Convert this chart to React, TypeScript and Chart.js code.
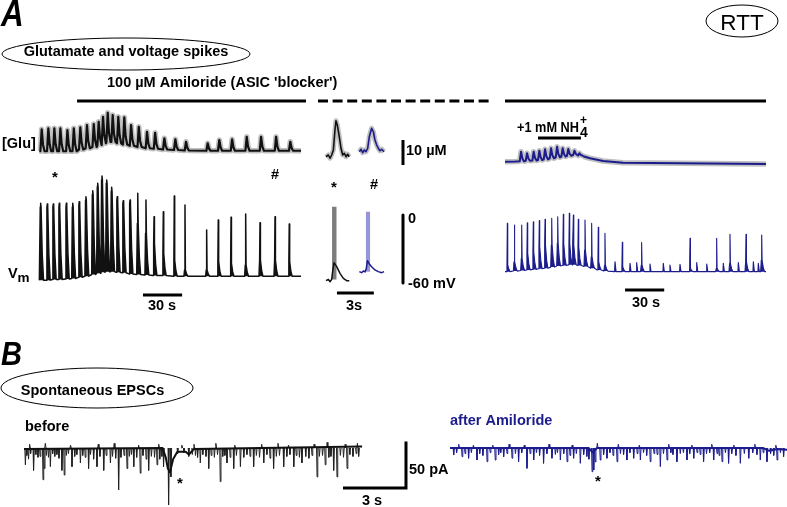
import React, { useEffect, useRef } from "react";
import { Chart, registerables } from "chart.js";

Chart.register(...registerables);

// ================= DATA =================
// Panel A, left: spontaneous events in 100 µM amiloride (time in s)
const leftSpikeTimes = [0.5, 5.6, 10.2, 14.8, 20.2, 25.1, 30.1, 35.2, 40.4, 44.2, 47.5, 51.1, 54.9, 59.2, 63.8, 69.0, 74.9, 81.2, 87.4, 94.5, 102.9, 111.1, 127.7, 136.6, 146.4, 157.6, 168.6, 180.1, 191.0];
// membrane potential (mV): spike peak, depolarising hump, baseline under each event
const leftVmPeak = [10.3, 9.7, 9.7, 10.3, 10.3, 10.3, 11.8, 16.2, 21.5, 28, 34.4, 30.9, 24.5, 16.2, 12.6, 13.2, 19.1, 13.2, -1.5, 2.9, 16.8, 8.8, -13.2, -4.4, -2, 0.9, -6.8, -1.5, -8];
const leftVmHump = [7, 7, 7, 7, 7, 7, 9, 13, 18, 25, 31, 28, 21, 13, 10, 10, -7.4, -16.2, -25, -33.8, -39.7, -48.5, -48.5, -41.2, -42.6, -44.1, -39.7, -39.7, -41.2];
const leftVmBase = [-57.5, -57.5, -57, -57, -56.5, -56, -55, -54, -52.5, -51.5, -50.5, -50, -50, -50.5, -51, -52, -52.5, -53, -53.5, -53.5, -54, -54, -54, -54, -54, -54, -54, -54, -54];
// extracellular glutamate (µM)
const leftGluPeak = [9.1, 9.5, 9.5, 9.5, 8.8, 9.5, 9.9, 10.8, 11.2, 12.1, 14.1, 15.7, 14.8, 14.1, 13.9, 10.8, 10.1, 8.1, 7.7, 5.5, 5.1, 4.1, 3.5, 4.8, 5.1, 6.1, 6.1, 6.1, 4.1];
const leftGluBase = [0.3, 0.3, 0.3, 0.3, 0.3, 0.3, 1, 1.5, 2, 2.8, 3.5, 4, 4, 3.5, 3, 2.5, 2, 1.5, 1.3, 1, 0.8, 0.6, 0.5, 0.5, 0.5, 0.5, 0.5, 0.5, 0.5];
const leftTraceEnd = 200;

// Panel A, middle: expanded single events (* black, # blue), time in s
const midGluStarT = [0, 0.19, 0.33, 0.46, 0.6, 0.73, 0.81, 0.92, 1.08, 1.22, 1.36, 1.49, 1.63, 1.76, 1.89];
const midGluStarV = [0.1, 0.8, -0.5, 0.8, 2.8, 10.8, 14.5, 12.8, 8.1, 3.5, 0.8, 1.5, 0.1, 1.1, 0.1];
const midGluHashT = [2.71, 2.85, 2.98, 3.12, 3.25, 3.39, 3.52, 3.71, 3.85, 3.98, 4.12, 4.25, 4.39, 4.53, 4.72];
const midGluHashV = [2.1, 3.1, 1.7, 2.8, 2.1, 3.5, 8.1, 11.5, 10.1, 6.8, 4.8, 3.5, 2.5, 3.1, 2.1];
const midVmStarT = [0, 0.19, 0.33, 0.46, 0.54, 0.65, 0.87, 1.14, 1.41, 1.68, 1.89];
const midVmStarV = [-58, -56.8, -58.9, -56.8, -50, -42.1, -45.6, -51.5, -55.9, -58, -58];
const midVmStarBurst = [0.49, 0.87, 7.3]; // start s, end s, top mV
const midVmHashT = [2.71, 2.9, 3.04, 3.17, 3.28, 3.37, 3.52, 3.71, 3.98, 4.25, 4.53, 4.72];
const midVmHashV = [-50, -50.9, -49.4, -50.3, -47.1, -40.3, -43.2, -45.6, -48.5, -50, -50.9, -50];
const midVmHashBurst = [3.23, 3.6, 2.9];

// Panel A, right: amiloride + 1 mM NH4+
const rightSpikeTimes = [1.8, 7.2, 12.8, 17.1, 21.7, 26.3, 30.7, 35.8, 40.4, 44.7, 49.3, 52.4, 56.2, 61.3, 66.4, 71.5, 76.6, 89.9, 104.7, 141.8, 162.2, 172.4, 184.7, 196.7];
const rightVmPeak = [-7.4, -8.8, -8.8, -6.8, -5.9, -5, -3.8, -2.9, -1.5, 0.6, 1.5, 0, -3.8, -4.4, -7.4, -10.9, -16.2, -24.1, -24.4, -20.6, -20.6, -17, -17, -17.7];
const rightVmHump = [-44.1, -41.2, -38.3, -33.8, -32.4, -28, -26.5, -26.5, -25, -25, -25, -26.5, -28, -30.9, -36.8, -41.2, -44.1, -45.6, -44.1, -47, -47, -42.6, -41.2, -39.7];
const rightVmBase = [-50, -49.5, -49, -48.5, -48, -47.5, -47, -46, -45, -44.5, -44, -44, -44.5, -45.5, -47, -48.5, -49.5, -50, -50, -50, -50, -50, -50, -50];
const rightMiniTimes = [84.3, 95.8, 100.9, 111.1, 121.3, 126.4, 134.1, 146.9, 154.6, 167.3, 178.8, 190.3, 194.1];
const rightMiniPeak = [-41.2, -42.6, -42, -43.2, -42.6, -44.1, -43.5, -42, -43.2, -42.6, -42, -41.2, -42.6];
const rightGluPeakTimes = [11.5, 16.1, 21.2, 25.5, 29.9, 34.5, 39.1, 43.4, 47.7, 52.4, 56.2];
const rightGluPeak = [4.1, 3.5, 4.1, 4.5, 5.1, 5.5, 6.1, 5.5, 5.2, 4.5, 3.5];
const rightGluPeakBase = [0.3, 0.5, 0.6, 0.8, 1.1, 1.5, 1.9, 2.2, 2.5, 2.8, 2.6];
const rightGluAnchorT = [0, 8, 60.5, 65.1, 75.1, 90.4, 200];
const rightGluAnchorV = [0.1, 0.2, 2.2, 1.5, 0.4, -0.3, -0.8];
const rightTraceEnd = 200;

// Panel B: spontaneous EPSCs (pA), time in s
const beforeDownT = [
  0.05, 0.12, 0.2, 0.3, 0.44, 0.55, 0.65, 0.75, 0.89, 0.95,
  1.05, 1.15, 1.24, 1.35, 1.45, 1.55, 1.65, 1.79, 1.9, 2.0,
  2.1, 2.27, 2.4, 2.5, 2.67, 2.78, 2.9, 3.06, 3.15, 3.3,
  3.46, 3.6, 3.78, 3.9, 4.1, 4.2, 4.35, 4.49, 4.6, 4.75,
  4.89, 5.0, 5.1, 5.21, 5.35, 5.52, 5.65, 5.8, 5.92, 6.05,
  6.2, 6.32, 6.45, 6.55, 6.63, 6.87, 6.98, 7.3, 7.6, 7.83,
  8.0, 8.15, 8.25, 8.38, 8.5, 8.65, 8.78, 8.9, 9.05, 9.2,
  9.33, 9.45, 9.55, 9.65, 9.8, 9.97, 10.1, 10.29, 10.45, 10.6,
  10.75, 10.92, 11.05, 11.2, 11.4, 11.55, 11.7, 11.87, 12.0, 12.15,
  12.35, 12.5, 12.65, 12.83, 12.95, 13.1, 13.22, 13.4, 13.55, 13.7,
  13.94, 14.05, 14.2, 14.33, 14.5, 14.6, 14.73, 14.89, 15.05, 15.2,
  15.37, 15.5, 15.65, 15.8, 15.92,
];
const beforeDownA = [
  -18, -8, -12, -6, -24, -7, -10, -9, -34, -22,
  -8, -10, -20, -6, -9, -7, -11, -24, -29, -8,
  -6, -20, -9, -7, -16, -8, -10, -22, -7, -12,
  -20, -9, -24, -8, -16, -9, -11, -45, -10, -8,
  -22, -9, -7, -20, -10, -27, -8, -12, -24, -9,
  -10, -18, -12, -9, -20, -61, -31, -6, -5, -9,
  -7, -8, -10, -16, -7, -9, -22, -8, -10, -7,
  -36, -9, -8, -16, -10, -22, -8, -20, -10, -7,
  -9, -20, -8, -10, -16, -7, -11, -22, -9, -8,
  -20, -9, -7, -20, -8, -10, -16, -9, -11, -8,
  -31, -9, -8, -18, -10, -9, -24, -31, -8, -10,
  -22, -7, -9, -6, -9,
];
const beforeUpT = [0.25, 1.0, 2.2, 3.52, 4.28, 5.44, 6.4, 7.5, 8.08, 9.12, 10.02, 11.3, 12.08, 12.58, 13.8, 14.42, 15.28, 15.86];
const beforeUpA = [4, 5, 3, 4, 5, 3, 4, 3, 4, 5, 3, 4, 5, 3, 4, 6, 4, 5];
const beforeBaseT = [0, 6.6, 6.75, 6.85, 6.95, 7.1, 7.3, 7.7, 7.85, 8.1, 16.1];
const beforeBaseV = [-1, 0, -10, -22, -26, -12, -4, -4, -7, -1, 1.5];

const afterDownT = [
  0.16, 0.3, 0.56, 0.7, 0.87, 1.0, 1.27, 1.4, 1.55, 1.75,
  1.9, 2.14, 2.3, 2.4, 2.54, 2.7, 2.94, 3.1, 3.25, 3.4,
  3.65, 3.8, 3.97, 4.1, 4.25, 4.44, 4.6, 4.84, 5.0, 5.1,
  5.24, 5.4, 5.56, 5.7, 5.87, 6.0, 6.19, 6.35, 6.5, 6.6,
  6.75, 6.83, 6.9, 7.14, 7.3, 7.46, 7.6, 7.75, 7.94, 8.1,
  8.25, 8.41, 8.55, 8.73, 8.9, 9.05, 9.2, 9.35, 9.52, 9.7,
  9.85, 10.0, 10.15, 10.32, 10.5, 10.6, 10.79, 10.95, 11.1, 11.27,
  11.4, 11.59, 11.75, 11.9, 12.06, 12.2, 12.35, 12.54, 12.7, 12.8,
  12.94, 13.1, 13.25, 13.4, 13.6, 13.81, 14.0, 14.21, 14.4, 14.6,
  14.76, 14.9, 15.08, 15.25, 15.4, 15.56, 15.72, 15.87,
];
const afterDownA = [
  -7.5, -5, -9.3, -6, -11, -5, -12.9, -6, -8, -14.7,
  -5, -12.9, -7, -5, -9.3, -6, -11, -6, -14.7, -5,
  -21.8, -6, -12.9, -5, -8, -16.4, -6, -11, -7, -5,
  -12.9, -6, -14.7, -8, -11, -6, -16.4, -7, -9, -12,
  -25.4, -23.6, -15, -12.9, -7, -11, -5, -8, -14.7, -6,
  -7, -12.9, -5, -11, -6, -12.9, -5, -8, -14.7, -6,
  -7, -20, -6, -12.9, -5, -7, -14.7, -6, -5, -12.9,
  -6, -11, -5, -7, -14.7, -6, -5, -12.9, -6, -8,
  -14.7, -5, -16.4, -6, -8, -16.4, -6, -11, -5, -7,
  -12.9, -5, -14.7, -6, -8, -12.9, -5, -9.3,
];
const afterUpT = [0.4, 1.1, 2.02, 2.8, 3.52, 4.7, 5.8, 7.0, 8.0, 9.0, 10.4, 11.5, 12.45, 13.5, 14.5, 15.5];
const afterUpA = [4, 3, 3, 4, 3, 4, 3, 5, 4, 3, 4, 3, 4, 3, 4, 3];
const afterBaseT = [0, 6.6, 6.8, 7.0, 14.9, 15.2, 15.6, 16.05];
const afterBaseV = [0, 0, -5, 0, 0, -3, -1, -2];

// ================= LAYOUT (pixel frame of each panel) =================
const W = 787;
const H = 507;
const NAVY = "#1c1c8c";
const FONT = '"Liberation Sans", Arial, Helvetica, sans-serif';

// x: pixel of t=0, px per s ; y: pixel of value 0, px per unit
const xScale = (px0: number, k: number) => ({ type: "linear", axis: "x", display: false, min: -px0 / k, max: (W - px0) / k });
const yScale = (py0: number, k: number) => ({ type: "linear", axis: "y", display: false, min: -(H - py0) / k, max: py0 / k });

type Pt = { x: number; y: number | null };

function vmTrace(times: number[], peaks: number[], humps: number[], bases: number[], t0: number, t1: number, minis?: [number[], number[], number]) {
  const pts: Pt[] = [{ x: t0, y: bases[0] }];
  times.forEach((t, i) => {
    const b = bases[i], h = humps[i], p = peaks[i];
    pts.push({ x: t - 0.8, y: b }, { x: t - 0.3, y: h }, { x: t, y: p }, { x: t + 0.3, y: h }, { x: t + 1.2, y: b + (h - b) * 0.35 }, { x: t + 2.2, y: b });
  });
  if (minis) {
    const [mt, mp, mb] = minis;
    mt.forEach((t, i) => pts.push({ x: t - 0.3, y: mb }, { x: t, y: mp[i] }, { x: t + 0.8, y: mb }));
  }
  pts.push({ x: t1, y: bases[bases.length - 1] });
  return pts.sort((a, b) => a.x - b.x);
}

// resting line under the same events (used as the lower edge of the filled spikes)
function vmRest(times: number[], bases: number[], t0: number, t1: number) {
  const pts: Pt[] = [{ x: t0, y: bases[0] }];
  times.forEach((t, i) => pts.push({ x: t - 0.8, y: bases[i] }, { x: t + 2.2, y: bases[i] }));
  pts.push({ x: t1, y: bases[bases.length - 1] });
  return pts;
}

function gluTrace(times: number[], peaks: number[], bases: number[], anchorsT: number[], anchorsV: number[]) {
  const pts: Pt[] = anchorsT.map((t, i) => ({ x: t, y: anchorsV[i] }));
  times.forEach((t, i) => {
    const b = bases[i], p = peaks[i];
    pts.push({ x: t - 0.2, y: b }, { x: t + 0.8, y: p }, { x: t + 1.8, y: b + (p - b) * 0.3 }, { x: t + 3.0, y: b });
  });
  return pts.sort((a, b) => a.x - b.x);
}

function eventTicks(times: number[], amps: number[]) {
  const pts: Pt[] = [];
  times.forEach((t, i) => {
    pts.push({ x: t - 0.01, y: 0 }, { x: t + 0.015, y: amps[i] }, { x: t + 0.05, y: 0 }, { x: t + 0.05, y: null });
  });
  return pts;
}

const zip = (xs: number[], ys: number[]): Pt[] => xs.map((x, i) => ({ x, y: ys[i] }));

function line(data: Pt[], xAxisID: string, yAxisID: string, color: string, width: number, extra: any = {}) {
  return {
    data, xAxisID, yAxisID, borderColor: color, borderWidth: width, pointRadius: 0,
    tension: 0, fill: false, spanGaps: false, clip: false, order: 1,
    borderJoinStyle: "round", ...extra,
  };
}

function buildDatasets() {
  const leftVm = vmTrace(leftSpikeTimes, leftVmPeak, leftVmHump, leftVmBase, -0.5, leftTraceEnd);
  const leftRest = vmRest(leftSpikeTimes, leftVmBase, -0.5, leftTraceEnd);
  const leftGlu = gluTrace(leftSpikeTimes, leftGluPeak, leftGluBase, [-0.5, leftTraceEnd], [leftGluBase[0], leftGluBase[leftGluBase.length - 1]]);
  const rightVm = vmTrace(rightSpikeTimes, rightVmPeak, rightVmHump, rightVmBase, 0, rightTraceEnd, [rightMiniTimes, rightMiniPeak, -50]);
  const rightRest = vmRest(rightSpikeTimes, rightVmBase, 0, rightTraceEnd);
  const rightGlu = gluTrace(rightGluPeakTimes, rightGluPeak, rightGluPeakBase, rightGluAnchorT, rightGluAnchorV);
  const burst = (b: number[], base: number): Pt[] => [
    { x: b[0], y: base }, { x: b[0], y: b[2] }, { x: b[1], y: b[2] }, { x: b[1], y: base },
  ];
  const band = "rgb(192,192,192)";
  return [
    // membrane potential (each trace filled down to its resting line, which follows right after it)
    line(leftVm, "xl", "yv", "#111", 1.5, { fill: "+1", backgroundColor: "#111" }),
    line(leftRest, "xl", "yv", "rgba(0,0,0,0)", 0, { order: 6 }),
    line(rightVm, "xr", "yv", NAVY, 1.1, { fill: "+1", backgroundColor: NAVY }),
    line(rightRest, "xr", "yv", "rgba(0,0,0,0)", 0, { order: 6 }),
    line(burst(midVmStarBurst, -57), "xm", "yv", "rgba(0,0,0,0)", 0, { fill: { value: -57 }, backgroundColor: "rgb(125,125,125)", order: 4 }),
    line(zip(midVmStarT, midVmStarV), "xm", "yv", "#111", 1.5),
    line(burst(midVmHashBurst, -50), "xm", "yv", "rgba(0,0,0,0)", 0, { fill: { value: -50 }, backgroundColor: "rgb(150,150,215)", order: 4 }),
    line(zip(midVmHashT, midVmHashV), "xm", "yv", NAVY, 1.5),
    // glutamate with SEM bands
    line(leftGlu, "xl", "ygl", band, 5.5, { order: 5 }),
    line(leftGlu, "xl", "ygl", "#111", 2.2),
    line(zip(midGluStarT, midGluStarV), "xm", "ygm", band, 5, { order: 5 }),
    line(zip(midGluStarT, midGluStarV), "xm", "ygm", "#111", 1.6),
    line(zip(midGluHashT, midGluHashV), "xm", "ygm", band, 5, { order: 5 }),
    line(zip(midGluHashT, midGluHashV), "xm", "ygm", NAVY, 1.6),
    line(rightGlu, "xr", "ygr", band, 5.5, { order: 5 }),
    line(rightGlu, "xr", "ygr", NAVY, 2),
    // EPSCs
    line(zip(beforeBaseT, beforeBaseV), "xb", "yb", "#111", 2),
    line(eventTicks(beforeDownT, beforeDownA), "xb", "yb", "#222", 1),
    line(eventTicks(beforeUpT, beforeUpA), "xb", "yb", "#222", 1),
    line(zip(afterBaseT, afterBaseV), "xa", "yb", NAVY, 2),
    line(eventTicks(afterDownT, afterDownA), "xa", "yb", NAVY, 1),
    line(eventTicks(afterUpT, afterUpA), "xa", "yb", NAVY, 1),
    // drug application bars
    line([{ x: 28.4, y: 20.4 }, { x: 203.8, y: 20.4 }], "xl", "ygl", "#000", 3, { borderJoinStyle: "miter" }),
    line([{ x: -0.65, y: 22.4 }, { x: 13.33, y: 22.4 }], "xm", "ygm", "#000", 3, { borderDash: [10, 4.6], borderJoinStyle: "miter" }),
    line([{ x: 0, y: 24.4 }, { x: 200, y: 24.4 }], "xr", "ygr", "#000", 3, { borderJoinStyle: "miter" }),
    line([{ x: 25.3, y: 9.6 }, { x: 58.2, y: 9.6 }], "xr", "ygr", "#000", 3, { borderJoinStyle: "miter" }),
    // scale bars: 30 s, 3 s, 30 s, 10 µM, 60 mV, 3 s / 50 pA
    line([{ x: 78.9, y: -70.6 }, { x: 108.9, y: -70.6 }], "xl", "yv", "#000", 3),
    line([{ x: 0.89, y: -68.8 }, { x: 3.89, y: -68.8 }], "xm", "yv", "#000", 3),
    line([{ x: 92, y: -66.2 }, { x: 122, y: -66.2 }], "xr", "yv", "#000", 3),
    line([{ x: 6.26, y: -3.2 }, { x: 6.26, y: 6.8 }], "xm", "ygm", "#000", 3),
    line([{ x: 6.26, y: 0 }, { x: 6.26, y: -60 }], "xm", "yv", "#000", 3),
    line([{ x: 15.19, y: -42.9 }, { x: 18.19, y: -42.9 }, { x: 18.19, y: 7.1 }], "xb", "yb", "#000", 3, { borderJoinStyle: "miter" }),
  ];
}

// ---------- text & ellipse overlay ----------
function drawText(ctx: CanvasRenderingContext2D, s: string, x: number, y: number, size: number, o: { w?: string; italic?: boolean; align?: CanvasTextAlign; color?: string; sx?: number } = {}) {
  ctx.save();
  ctx.font = `${o.italic ? "italic " : ""}${o.w ?? "bold"} ${size}px ${FONT}`;
  ctx.fillStyle = o.color ?? "#000";
  ctx.textAlign = o.align ?? "left";
  ctx.textBaseline = "alphabetic";
  ctx.translate(x, y);
  ctx.scale(o.sx ?? 1, 1);
  ctx.fillText(s, 0, 0);
  ctx.restore();
}

function ellipse(ctx: CanvasRenderingContext2D, cx: number, cy: number, rx: number, ry: number) {
  ctx.save();
  ctx.beginPath();
  ctx.ellipse(cx, cy, rx, ry, 0, 0, Math.PI * 2);
  ctx.lineWidth = 1;
  ctx.strokeStyle = "#000";
  ctx.stroke();
  ctx.restore();
}

const overlay = {
  id: "overlay",
  afterDraw(chart: any) {
    const ctx: CanvasRenderingContext2D = chart.ctx;
    drawText(ctx, "A", 1, 26, 37, { italic: true, sx: 0.85 });
    ellipse(ctx, 126, 54, 124, 16);
    drawText(ctx, "Glutamate and voltage spikes", 126, 56, 14.5, { align: "center" });
    drawText(ctx, "100 µM Amiloride (ASIC 'blocker')", 107, 87, 14.5);
    ellipse(ctx, 742, 21, 36, 16);
    drawText(ctx, "RTT", 742, 29.5, 22.5, { w: "normal", align: "center" });
    drawText(ctx, "[Glu]", 2, 148, 14.5);
    drawText(ctx, "V", 8, 278, 14.5);
    drawText(ctx, "m", 17.5, 281.5, 13.5);
    drawText(ctx, "*", 55, 182, 15, { align: "center" });
    drawText(ctx, "#", 275, 179, 14.5, { align: "center" });
    drawText(ctx, "*", 334, 192, 15, { align: "center" });
    drawText(ctx, "#", 374, 189, 14.5, { align: "center" });
    drawText(ctx, "10 µM", 406, 155, 14.5);
    drawText(ctx, "0", 408, 223, 14.5);
    drawText(ctx, "-60 mV", 408, 288, 14.5);
    drawText(ctx, "30 s", 162, 310, 14.5, { align: "center" });
    drawText(ctx, "3s", 354, 310, 14.5, { align: "center" });
    drawText(ctx, "30 s", 646, 306.5, 14.5, { align: "center" });
    drawText(ctx, "+1 mM NH", 517, 131.5, 15, { sx: 0.85 });
    drawText(ctx, "4", 580, 137, 14);
    drawText(ctx, "+", 580, 124, 12);
    drawText(ctx, "B", 1, 365, 33, { italic: true, sx: 0.88 });
    ellipse(ctx, 97, 388, 96, 20);
    drawText(ctx, "Spontaneous EPSCs", 92.5, 395, 14.5, { align: "center" });
    drawText(ctx, "before", 25, 431, 14.5);
    drawText(ctx, "after Amiloride", 450, 425, 14.5, { color: NAVY });
    drawText(ctx, "*", 180, 488, 15, { align: "center" });
    drawText(ctx, "*", 598, 486, 15, { align: "center" });
    drawText(ctx, "50 pA", 409, 474, 14.5);
    drawText(ctx, "3 s", 372, 505, 14.5, { align: "center" });
  },
};

export default function App() {
  const ref = useRef<HTMLCanvasElement>(null);
  useEffect(() => {
    document.body.style.margin = "0";
    const chart = new Chart(ref.current as HTMLCanvasElement, {
      type: "line",
      data: { datasets: buildDatasets() as any },
      options: {
        animation: false,
        responsive: false,
        events: [],
        layout: { padding: 0 },
        plugins: { legend: { display: false }, tooltip: { enabled: false }, filler: { propagate: false } },
        scales: {
          x: { type: "linear", display: false },
          y: { type: "linear", display: false },
          xl: xScale(40, 1.305),
          xm: xScale(326, 12.3),
          xr: xScale(505, 1.305),
          xb: xScale(24, 21),
          xa: xScale(450, 21),
          ygl: yScale(152, 2.5),
          ygm: yScale(157, 2.5),
          ygr: yScale(162, 2.5),
          yv: yScale(215, 1.133),
          yb: yScale(448, 0.933),
        } as any,
      },
      plugins: [overlay],
    });
    return () => chart.destroy();
  }, []);
  return (
    <div style={{ position: "absolute", left: 0, top: 0, width: W, height: H, background: "#fff" }}>
      <canvas ref={ref} width={W} height={H} style={{ display: "block", width: W, height: H }} />
    </div>
  );
}
